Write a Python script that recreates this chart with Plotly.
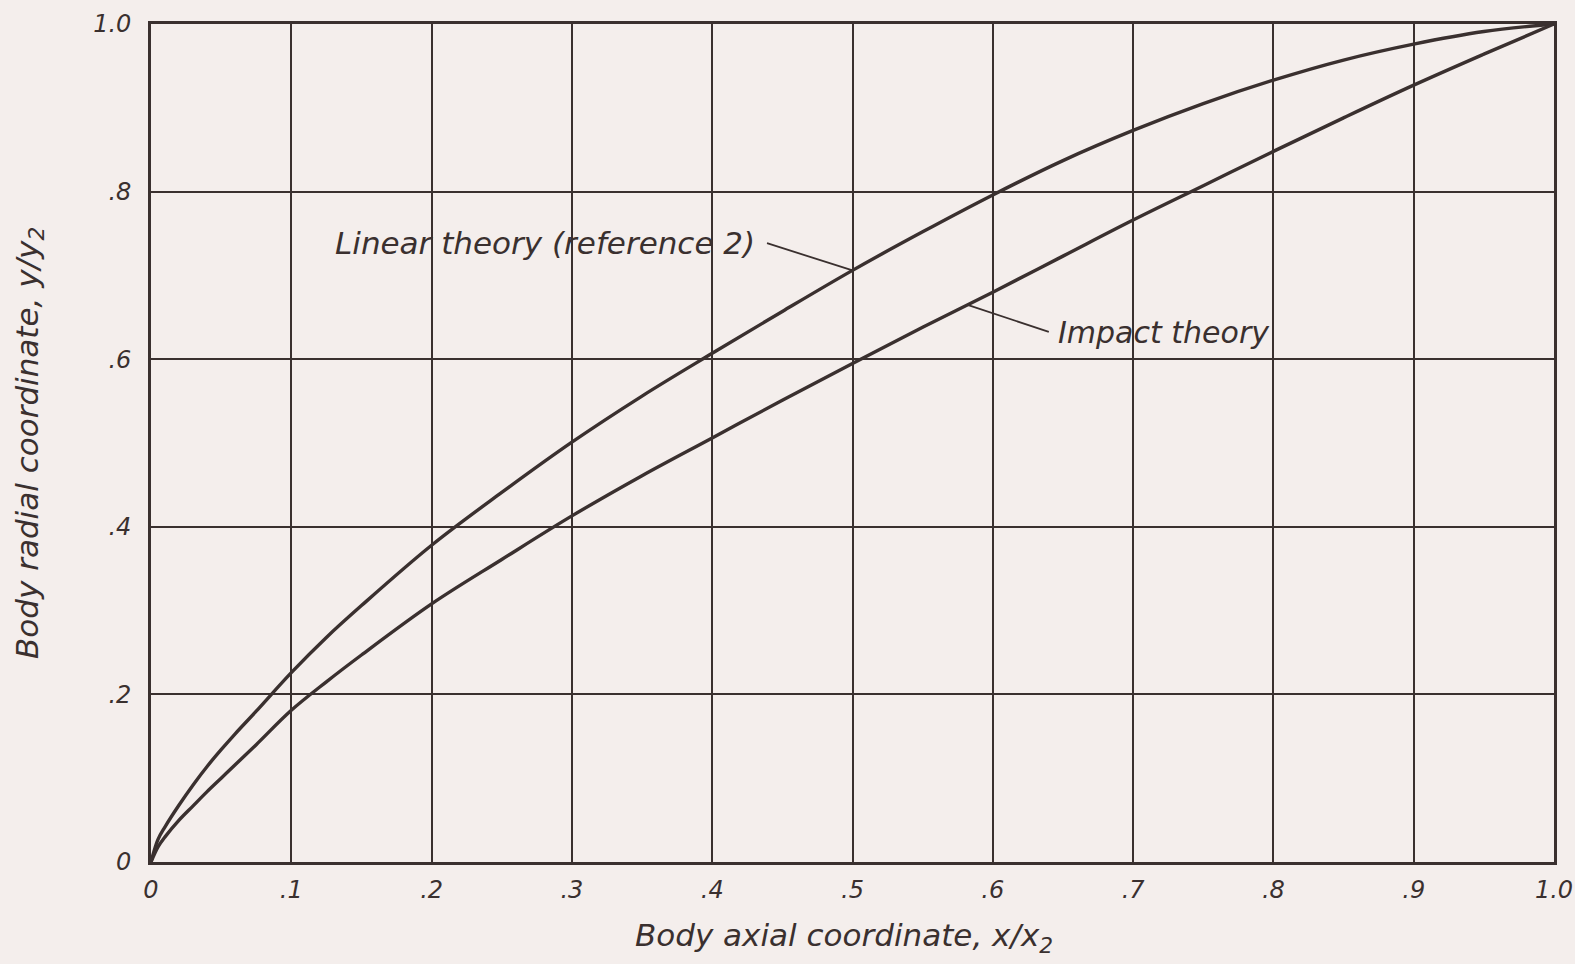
import numpy as np
import plotly.graph_objects as go

# ---- data ----
x_vals = [0, 0.005, 0.01, 0.02, 0.03, 0.04, 0.05, 0.06, 0.075, 0.1, 0.125, 0.15, 0.2,
          0.25, 0.3, 0.35, 0.4, 0.45, 0.5, 0.55, 0.6, 0.65, 0.7, 0.75, 0.8, 0.85,
          0.9, 0.95, 1.0]
linear_theory = [0, 0.027, 0.042, 0.068, 0.092, 0.114, 0.134, 0.153, 0.180, 0.226,
                 0.268, 0.306, 0.378, 0.441, 0.501, 0.556, 0.607, 0.657, 0.706, 0.752,
                 0.796, 0.837, 0.873, 0.905, 0.933, 0.957, 0.976, 0.991, 1.0]
impact_theory = [0, 0.018, 0.030, 0.050, 0.067, 0.084, 0.100, 0.116, 0.140, 0.181,
                 0.215, 0.247, 0.308, 0.361, 0.413, 0.461, 0.506, 0.551, 0.595, 0.638,
                 0.680, 0.723, 0.766, 0.807, 0.848, 0.888, 0.927, 0.964, 1.0]

x_ticks = [0, 0.1, 0.2, 0.3, 0.4, 0.5, 0.6, 0.7, 0.8, 0.9, 1.0]
x_tick_labels = ["0", ".1", ".2", ".3", ".4", ".5", ".6", ".7", ".8", ".9", "1.0"]
y_ticks = [0, 0.2, 0.4, 0.6, 0.8, 1.0]
y_tick_labels = ["0", ".2", ".4", ".6", ".8", "1.0"]

linear_label = "Linear theory (reference 2)"
impact_label = "Impact theory"
x_title = "Body axial coordinate, x/x<sub>2</sub>"
y_title = "Body radial coordinate, y/y<sub>2</sub>"

# label anchor positions (data coords) and leader targets along curves
linear_label_pos = (0.432, 0.739)
linear_target_x = 0.5
impact_label_pos = (0.645, 0.632)
impact_target_x = 0.582

INK = "#3a302f"
PAPER = "#f4eeec"
FONT = "DejaVu Sans"

fig = go.Figure()
fig.add_trace(go.Scatter(x=x_vals, y=linear_theory, mode="lines",
                         line=dict(color=INK, width=3.4, shape="spline", smoothing=1.0),
                         name=linear_label, showlegend=False, hoverinfo="skip"))
fig.add_trace(go.Scatter(x=x_vals, y=impact_theory, mode="lines",
                         line=dict(color=INK, width=3.4, shape="spline", smoothing=1.0),
                         name=impact_label, showlegend=False, hoverinfo="skip"))

lt_y = float(np.interp(linear_target_x, x_vals, linear_theory))
it_y = float(np.interp(impact_target_x, x_vals, impact_theory))

# leader lines (annotation arrows without heads)
fig.add_annotation(x=linear_target_x, y=lt_y, ax=linear_label_pos[0] + 0.006, ay=linear_label_pos[1],
                   xref="x", yref="y", axref="x", ayref="y", text="", showarrow=True,
                   arrowhead=0, arrowwidth=1.8, arrowcolor=INK)
fig.add_annotation(x=impact_target_x, y=it_y, ax=impact_label_pos[0] - 0.004, ay=impact_label_pos[1],
                   xref="x", yref="y", axref="x", ayref="y", text="", showarrow=True,
                   arrowhead=0, arrowwidth=1.8, arrowcolor=INK)

fig.add_annotation(x=linear_label_pos[0], y=linear_label_pos[1], xref="x", yref="y",
                   text=linear_label, showarrow=False, xanchor="right", yanchor="middle",
                   font=dict(family=FONT, size=31, color=INK, style="italic"))
fig.add_annotation(x=impact_label_pos[0], y=impact_label_pos[1], xref="x", yref="y",
                   text=impact_label, showarrow=False, xanchor="left", yanchor="middle",
                   font=dict(family=FONT, size=30, color=INK, style="italic"))

# axis titles
fig.add_annotation(x=0.494, y=-0.09, xref="paper", yref="paper", text=x_title,
                   showarrow=False, xanchor="center", yanchor="middle",
                   font=dict(family=FONT, size=31, color=INK, style="italic"))
fig.add_annotation(x=-0.087, y=0.5, xref="paper", yref="paper", text=y_title,
                   showarrow=False, xanchor="center", yanchor="middle", textangle=-90,
                   font=dict(family=FONT, size=31, color=INK, style="italic"))

axis_common = dict(showgrid=True, gridcolor=INK, gridwidth=1.6, zeroline=False,
                   showline=True, linecolor=INK, linewidth=2.8, mirror=True,
                   ticks="", tickfont=dict(family=FONT, size=24, color=INK, style="italic"),
                   fixedrange=True, automargin=False)

fig.update_xaxes(range=[0, 1], tickvals=x_ticks, ticktext=x_tick_labels,
                 ticklabelstandoff=4, **axis_common)
fig.update_yaxes(range=[0, 1], tickvals=y_ticks, ticktext=y_tick_labels,
                 ticklabelstandoff=12, **axis_common)

fig.update_layout(width=1575, height=964, paper_bgcolor=PAPER, plot_bgcolor=PAPER,
                  margin=dict(l=151, r=21, t=24, b=102), showlegend=False)

fig.write_html("out.html", config={"displayModeBar": False},
               post_script="document.documentElement.style.overflow='hidden';"
                           "document.body.style.overflow='hidden';"
                           "document.body.style.margin='0';"
                           "document.body.style.background='" + PAPER + "';")
